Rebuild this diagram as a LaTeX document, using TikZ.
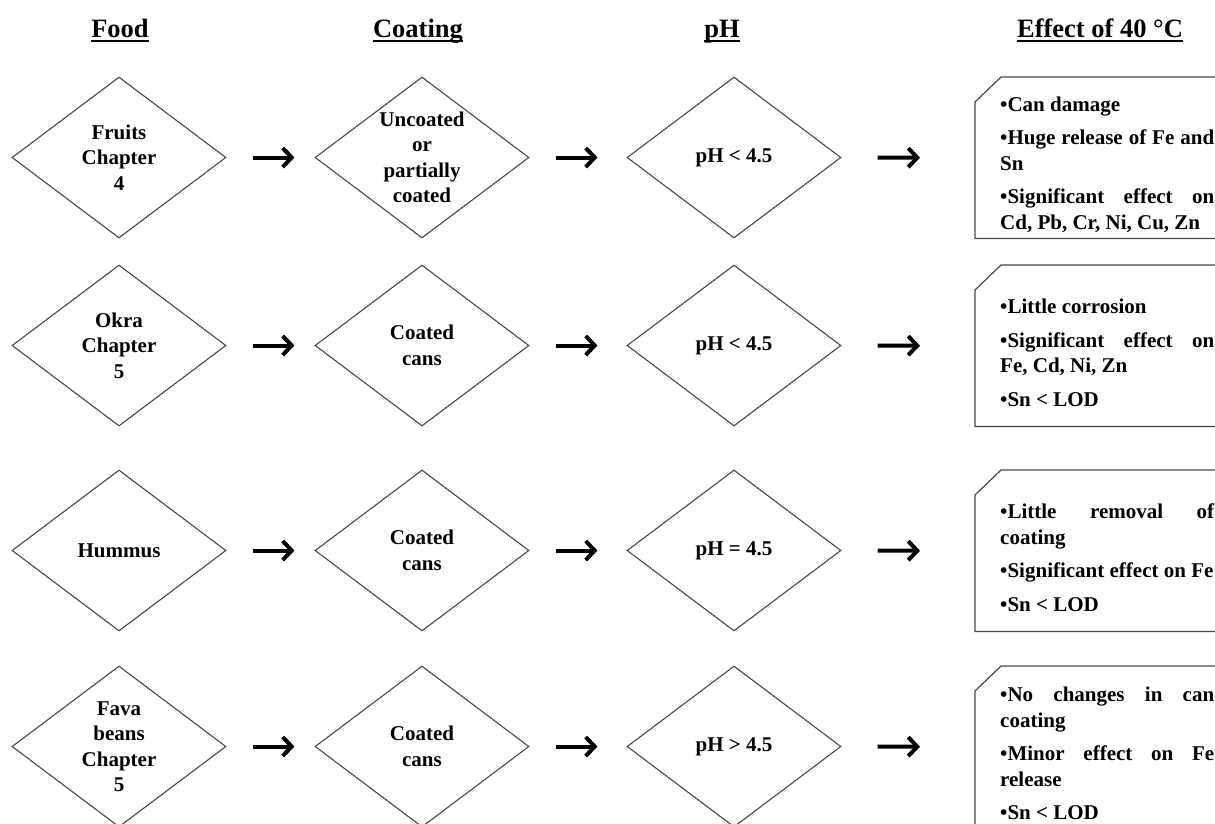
\documentclass[tikz,border=0pt]{standalone}
\usepackage{fontspec}
\setmainfont{Liberation Serif}
\usetikzlibrary{shapes.geometric,arrows.meta}
\hyphenpenalty=10000
\exhyphenpenalty=10000
\begin{document}
\begin{tikzpicture}[x=1pt,y=-1pt,
  dia/.style={diamond, draw=black!72, line width=1.1pt, minimum width=214pt, minimum height=161pt, inner sep=0pt},
  dtext/.style={font=\fontsize{21}{25.5}\selectfont\bfseries, align=center, inner sep=0pt},
  hdr/.style={font=\fontsize{26.5}{30}\selectfont\bfseries, inner sep=0pt, anchor=base},
  uline/.style={line width=2pt},
  arr/.style={line width=4pt, -{Straight Barb[length=9pt,width=19pt]}},
  effarea/.style={rectangle, minimum width=264pt, minimum height=161pt, inner sep=0pt, anchor=north west},
  boxline/.style={draw=black!72, line width=1.2pt},
  btext/.style={font=\fontsize{21}{25.5}\selectfont\bfseries\setlength{\parskip}{8pt}\setlength{\parindent}{0pt}, text width=214pt, align=justify, inner sep=0pt}
]
\useasboundingbox (0,0) rectangle (1215,823);
\clip (0,0) rectangle (1215,823);

% headers
\node[hdr] (hf) at (120,37) {Food};
\node[hdr] (hc) at (418,37) {Coating};
\node[hdr] (hp) at (722,37) {pH};
\node[hdr] (he) at (1100,37) {Effect of 40 °C};
\foreach \h in {hf,hc,hp,he}{
  \draw[uline] ([yshift=-4pt]\h.base west) -- ([yshift=-4pt]\h.base east);
}

% row 1
\node[dia] (f1) at (119,157.5) {};
\node[dtext] (f1t) at (f1) {Fruits\\Chapter\\4};
\node[dia] (c1) at (422,157.5) {};
\node[dtext] (c1t) at (c1) {Uncoated\\or\\partially\\coated};
\node[dia] (p1) at (734,157.5) {};
\node[dtext] (p1t) at (p1) {pH < 4.5};
\node[effarea] (b1) at (975,77) {};
\draw[boxline] ([yshift=-25pt]b1.north west) -- ([xshift=26pt]b1.north west) -- (b1.north east) -- (b1.south east) -- (b1.south west) -- cycle;
\node[btext] (t1) at ([yshift=-7pt]b1.center) {•Can damage\par •Huge release of Fe and Sn\par •Significant effect on\linebreak Cd, Pb, Cr, Ni, Cu, Zn};

% row 2
\node[dia] (f2) at (119,345.5) {};
\node[dtext] (f2t) at (f2) {Okra\\Chapter\\5};
\node[dia] (c2) at (422,345.5) {};
\node[dtext] (c2t) at (c2) {Coated\\cans};
\node[dia] (p2) at (734,345.5) {};
\node[dtext] (p2t) at (p2) {pH < 4.5};
\node[effarea] (b2) at (975,265) {};
\draw[boxline] ([yshift=-25pt]b2.north west) -- ([xshift=26pt]b2.north west) -- (b2.north east) -- (b2.south east) -- (b2.south west) -- cycle;
\node[btext] (t2) at ([yshift=-7pt]b2.center) {•Little corrosion\par •Significant effect on\linebreak Fe, Cd, Ni, Zn\par •Sn < LOD};

% row 3
\node[dia] (f3) at (119,550.5) {};
\node[dtext] (f3t) at (f3) {Hummus};
\node[dia] (c3) at (422,550.5) {};
\node[dtext] (c3t) at (c3) {Coated\\cans};
\node[dia] (p3) at (734,550.5) {};
\node[dtext] (p3t) at (p3) {pH = 4.5};
\node[effarea] (b3) at (975,470) {};
\draw[boxline] ([yshift=-25pt]b3.north west) -- ([xshift=26pt]b3.north west) -- (b3.north east) -- (b3.south east) -- (b3.south west) -- cycle;
\node[btext] (t3) at ([yshift=-7pt]b3.center) {•Little removal of\linebreak coating\par •Significant effect on Fe\par •Sn < LOD};

% row 4
\node[dia] (f4) at (119,746.5) {};
\node[dtext] (f4t) at (f4) {Fava\\beans\\Chapter\\5};
\node[dia] (c4) at (422,746.5) {};
\node[dtext] (c4t) at (c4) {Coated\\cans};
\node[dia] (p4) at (734,746.5) {};
\node[dtext] (p4t) at (p4) {pH > 4.5};
\node[effarea] (b4) at (975,666) {};
\draw[boxline] ([yshift=-25pt]b4.north west) -- ([xshift=26pt]b4.north west) -- (b4.north east) -- (b4.south east) -- (b4.south west) -- cycle;
\node[btext] (t4) at ([yshift=-7pt]b4.center) {•No changes in can\linebreak coating\par •Minor effect on Fe\linebreak release\par •Sn < LOD};

% arrows
\foreach \r in {1,2,3,4}{
  \draw[arr] ([xshift=26pt]f\r.east) -- ([xshift=-20pt]c\r.west);
  \draw[arr] ([xshift=26pt]c\r.east) -- ([xshift=-29pt]p\r.west);
  \draw[arr] ([xshift=36pt]p\r.east) -- ([xshift=-55pt]b\r.west);
}
\end{tikzpicture}
\end{document}
